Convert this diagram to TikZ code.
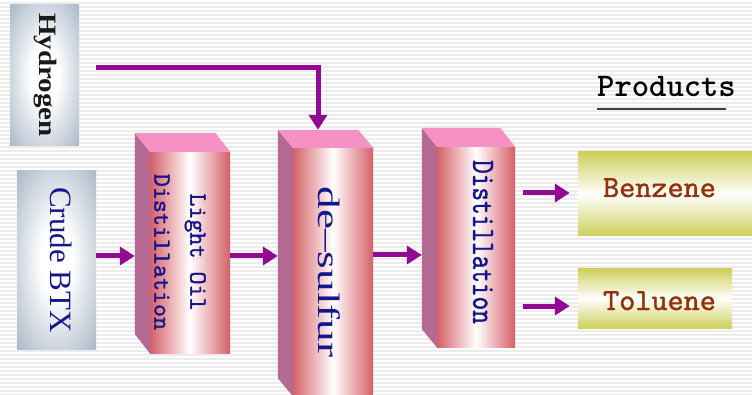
\documentclass[tikz,border=0pt]{standalone}
\usepackage{fontspec}
\setmainfont{Liberation Serif}
\newfontfamily\heavymono{lmmono10-regular.otf}[FakeBold=1.3]
\usetikzlibrary{arrows.meta}
\definecolor{arrowpurple}{RGB}{145,10,145}
\definecolor{textblue}{RGB}{22,22,140}
\definecolor{textbrown}{RGB}{150,50,10}
\definecolor{boxgray}{RGB}{156,172,190}
\definecolor{prismred}{RGB}{214,96,104}
\definecolor{prismside}{RGB}{180,106,146}
\definecolor{prismtop}{RGB}{245,145,196}
\definecolor{prodyellow}{RGB}{206,208,92}
\definecolor{bggray}{RGB}{236,236,236}
\pgfdeclareradialshading{grayglow}{\pgfpoint{0bp}{0bp}}{color(0bp)=(white); color(10bp)=(white); color(40bp)=(boxgray); color(50bp)=(boxgray)}
\tikzset{
  feedbox/.style={shading=grayglow, inner sep=0pt},
  prismfront/.style={shade, left color=prismred, right color=prismred, middle color=white, inner sep=0pt},
  sideface/.style={fill=prismside},
  topface/.style={fill=prismtop},
  prodbox/.style={shade, top color=prodyellow, bottom color=prodyellow, middle color=white, inner sep=0pt},
  flow/.style={draw=arrowpurple, line width=5pt, -{Triangle[length=15pt,width=18pt]}},
  vtext/.style={rotate=-90, inner sep=0pt, align=center},
}
\begin{document}
\begin{tikzpicture}[x=1pt,y=-1pt]
\useasboundingbox (0,0) rectangle (752,395);
\fill[bggray] (0,0) rectangle (752,395);
\foreach \i in {1,5,...,395} \draw[white, line width=1.7pt] (0,\i) -- (752,\i);

% feed boxes
\node[feedbox, minimum width=69pt, minimum height=141pt] (hyd) at (44.5,75.5) {};
\node[vtext, text=black!90] (hydtxt) at (45,75) {\fontsize{25}{25}\selectfont\bfseries\scalebox{1.16}[1]{Hydrogen}};
\node[feedbox, minimum width=79pt, minimum height=178pt] (crude) at (56.5,260) {};
\node[vtext, text=textblue] (crudetxt) at (61,260) {\fontsize{31}{31}\selectfont Crude BTX};

% light oil distillation prism
\node[prismfront, minimum width=80pt, minimum height=201pt] (lod) at (190,252.5) {};
\coordinate (lodbl) at ([shift={(-15,-19)}]lod.south west);
\coordinate (lodtl) at ([shift={(-15,-19)}]lod.north west);
\coordinate (lodtr) at ([shift={(-15,-19)}]lod.north east);
\fill[sideface] (lodtl) -- (lod.north west) -- (lod.south west) -- (lodbl) -- cycle;
\fill[topface] (lodtl) -- (lodtr) -- (lod.north east) -- (lod.north west) -- cycle;
\node[vtext, text=textblue, font=\fontsize{24.8}{36}\selectfont\heavymono] (lodtxt) at (180,252) {Light Oil\\Distillation};

% de-sulfur prism
\node[prismfront, minimum width=80pt, minimum height=248pt] (ds) at (333,272) {};
\coordinate (dsbl) at ([shift={(-15,-18)}]ds.south west);
\coordinate (dstl) at ([shift={(-15,-18)}]ds.north west);
\coordinate (dstr) at ([shift={(-15,-18)}]ds.north east);
\coordinate (dstop) at ([shift={(-15,-18)}]ds.north);
\fill[sideface] (dstl) -- (ds.north west) -- (ds.south west) -- (dsbl) -- cycle;
\fill[topface] (dstl) -- (dstr) -- (ds.north east) -- (ds.north west) -- cycle;
\node[vtext, text=textblue] (dstxt) at (329,272) {\fontsize{31}{31}\selectfont\scalebox{1.46}[1]{de--sulfur}};

% distillation prism
\node[prismfront, minimum width=78pt, minimum height=200pt] (dist) at (476,247) {};
\coordinate (distbl) at ([shift={(-15,-18)}]dist.south west);
\coordinate (disttl) at ([shift={(-15,-19)}]dist.north west);
\coordinate (disttr) at ([shift={(-15,-19)}]dist.north east);
\fill[sideface] (disttl) -- (dist.north west) -- (dist.south west) -- (distbl) -- cycle;
\fill[topface] (disttl) -- (disttr) -- (dist.north east) -- (dist.north west) -- cycle;
\node[vtext, text=textblue] (disttxt) at (483,242) {\fontsize{26}{26}\selectfont\heavymono\scalebox{1}[1.25]{Distillation}};

% products
\node[anchor=base west, inner sep=0pt, text=black] (prodtxt) at (597,97) {\fontsize{33}{33}\selectfont\ttfamily\bfseries Products};
\coordinate (ul1) at (597,109);
\coordinate (ul2) at (726,109);
\draw[black!75, line width=1.3pt] (ul1) -- (ul2);

\node[prodbox, minimum width=184pt, minimum height=84pt] (benz) at (670,194) {};
\node[anchor=base, inner sep=0pt, text=textbrown] (benztxt) at (659.5,197) {\fontsize{30.7}{30.7}\selectfont\heavymono Benzene};
\node[prodbox, minimum width=154pt, minimum height=59pt] (tol) at (655,298.5) {};
\node[anchor=base, inner sep=0pt, text=textbrown] (toltxt) at (659.5,310) {\fontsize{30.7}{30.7}\selectfont\heavymono Toluene};

% connectors
\coordinate (h0) at (96,68);
\draw[flow] (h0) -| (dstop);
\coordinate (r1) at (0,256);
\draw[flow] (crude.east |- r1) -- (lodtl |- r1);
\draw[flow] (lod.east |- r1) -- (dstl |- r1);
\coordinate (r2) at (0,255);
\draw[flow] (ds.east |- r2) -- (disttl |- r2);
\coordinate (r3) at (0,193);
\draw[flow, shorten <=8pt, shorten >=8pt] (dist.east |- r3) -- (benz.west |- r3);
\coordinate (r4) at (0,306);
\draw[flow, shorten <=8pt, shorten >=8pt] (dist.east |- r4) -- (tol.west |- r4);
\end{tikzpicture}
\end{document}
